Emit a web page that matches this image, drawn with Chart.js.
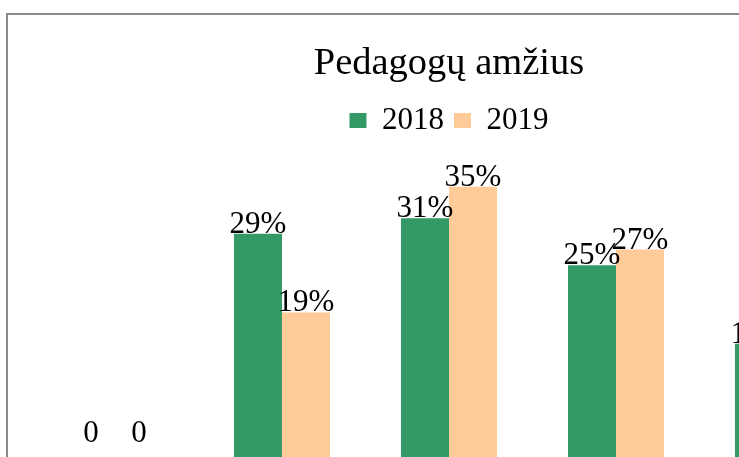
<!DOCTYPE html>
<html>
<head>
<meta charset="utf-8">
<script src="https://cdn.jsdelivr.net/npm/chart.js@4/dist/chart.umd.min.js"></script>
<style>
    html, body { margin: 0; padding: 0; background: #fff; overflow: hidden; }
    #frame {
        position: absolute;
        left: 6px;
        top: 13px;
        width: 884px;
        height: 560px;
        border: 2px solid #898989;
        background: #fff;
    }
</style>
</head>
<body>
<div id="frame"><canvas id="AgeChart" width="884" height="560"></canvas></div>
<script>
const chart_title = 'Pedagogų amžius';
const age_groups = ['iki 25 m.', '25–34 m.', '35–44 m.', '45–54 m.', '55 m. ir vyresni'];
const values_2018 = [0, 29, 31, 25, 15];
const values_2019 = [0, 19, 35, 27, 19];

const serif = '"Liberation Serif", "Times New Roman", serif';

// value labels above the bars, like excel's "outside end"
const barLabels = {
    id: 'barLabels',
    afterDatasetsDraw(chart) {
        const ctx = chart.ctx;
        ctx.save();
        ctx.font = '31px ' + serif;
        ctx.fillStyle = '#000';
        ctx.textAlign = 'center';
        ctx.textBaseline = 'alphabetic';
        chart.data.datasets.forEach((ds, i) => {
            chart.getDatasetMeta(i).data.forEach((bar, j) => {
                const v = ds.data[j];
                const txt = v === 0 ? '0' : v + '%';
                const y = Math.min(bar.y - 1, bar.base - 20);
                ctx.fillText(txt, bar.x, y);
            });
        });
        ctx.restore();
    }
};

new Chart(
    document.getElementById('AgeChart'),
    {
        type: 'bar',
        data: {
            labels: age_groups,
            datasets: [
                {
                    label: '2018',
                    data: values_2018,
                    backgroundColor: '#339966',
                    categoryPercentage: 0.575,
                    barPercentage: 1,
                },
                {
                    label: '2019',
                    data: values_2019,
                    backgroundColor: '#ffcc99',
                    categoryPercentage: 0.575,
                    barPercentage: 1,
                }
            ]
        },
        options: {
            responsive: false,
            animation: false,
            layout: {
                padding: { left: 23.5, right: 25.5, top: 0, bottom: 78.6 }
            },
            scales: {
                x: {
                    grid: { display: false, drawTicks: false },
                    border: { display: false },
                    ticks: { font: { family: serif, size: 24 }, color: '#000' }
                },
                y: {
                    display: false,
                    min: 0,
                    max: 40.2,
                }
            },
            plugins: {
                title: {
                    display: true,
                    text: chart_title,
                    color: '#000',
                    font: { family: serif, size: 38.5, weight: 'normal' },
                    padding: { top: 26, bottom: 7.7 }
                },
                legend: {
                    labels: {
                        color: '#000',
                        font: { family: serif, size: 31 },
                        boxWidth: 17,
                        boxHeight: 15,
                        padding: 10,
                    }
                },
                tooltip: { enabled: false }
            }
        },
        plugins: [barLabels]
    }
);
</script>
</body>
</html>
